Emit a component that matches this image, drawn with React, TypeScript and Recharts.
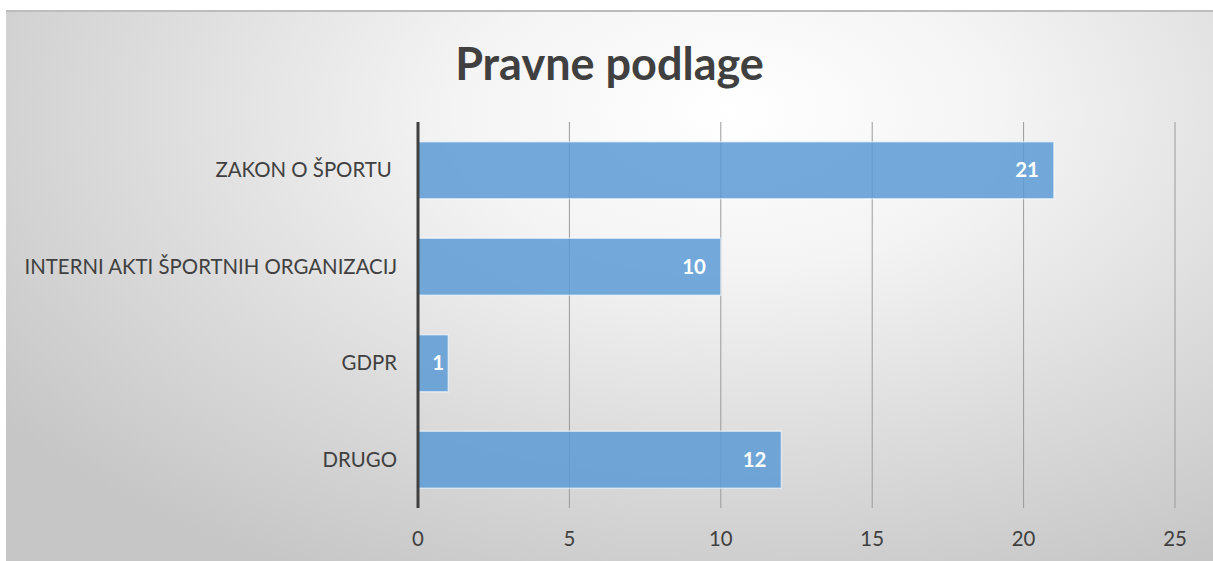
import React from "react";
import { BarChart, Bar, XAxis, YAxis, CartesianGrid, LabelList } from "recharts";

const categories = ["ZAKON O ŠPORTU ", "INTERNI AKTI ŠPORTNIH ORGANIZACIJ", "GDPR", "DRUGO"];
const values = [21, 10, 1, 12];
const xTicks = [0, 5, 10, 15, 20, 25];

const data = categories.map((name, i) => ({ name, value: values[i] }));

const FONT = "Lato, 'Open Sans', sans-serif";

const YTick = (props: any) => {
  const { x, y, payload } = props;
  return (
    <text x={x} y={y} dy="0.35em" textAnchor="end" fill="#404040" fontSize={20.4} fontFamily={FONT} style={{ whiteSpace: "pre" }}>
      {String(payload.value).replace(/ $/, "\u00a0")}
    </text>
  );
};

const ValueLabel = (props: any) => {
  const { x, y, width, height, value } = props;
  const pad = Math.min(15, Math.max(3, width * 0.14));
  return (
    <text x={x + width - pad} y={y + height / 2} dy="0.35em" textAnchor="end" fill="#ffffff" fontSize={20.4} fontWeight={700} fontFamily={FONT}>
      {value}
    </text>
  );
};

export default function App() {
  return (
    <div style={{ position: "absolute", left: 0, top: 0, width: 1213, height: 561, background: "#ffffff", overflow: "hidden" }}>
      <div
        style={{
          position: "absolute",
          left: 6,
          top: 10,
          width: 1207,
          height: 551,
          borderTop: "2px solid #bdbdbd",
          boxSizing: "border-box",
          background: "radial-gradient(ellipse 75% 95% at 60% 18%, #ffffff 0%, #f4f4f4 30%, #dcdcdc 65%, #c6c6c6 100%)",
        }}
      >
        <div
          style={{
            position: "absolute",
            left: 0,
            top: 24,
            width: 1207,
            textAlign: "center",
            fontFamily: FONT,
            fontWeight: 700,
            fontSize: 45,
            color: "#404040",
            lineHeight: "54px",
          }}
        >
          Pravne podlage
        </div>
        <div style={{ position: "absolute", left: 0, top: -2 }}>
          <BarChart
            width={1207}
            height={551}
            data={data}
            layout="vertical"
            margin={{ top: 112, right: 38, bottom: 13, left: 0 }}
            barCategoryGap="20.5%"
          >
            <CartesianGrid horizontal={false} vertical={true} stroke="#9a9a9a" strokeWidth={1} />
            <XAxis
              type="number"
              domain={[0, 25]}
              ticks={xTicks}
              axisLine={false}
              tickLine={false}
              height={40}
              tickMargin={18}
              tick={{ fill: "#404040", fontSize: 20.4, fontFamily: FONT }}
            />
            <YAxis
              type="category"
              dataKey="name"
              width={412}
              axisLine={{ stroke: "#404040", strokeWidth: 3 }}
              tickLine={false}
              tickMargin={15}
              tick={<YTick />}
              interval={0}
            />
            <Bar dataKey="value" fill="#5b9bd5" fillOpacity={0.85} stroke="#ffffff" strokeOpacity={0.55} strokeWidth={1.5} isAnimationActive={false}>
              <LabelList dataKey="value" content={<ValueLabel />} />
            </Bar>
          </BarChart>
        </div>
      </div>
    </div>
  );
}
